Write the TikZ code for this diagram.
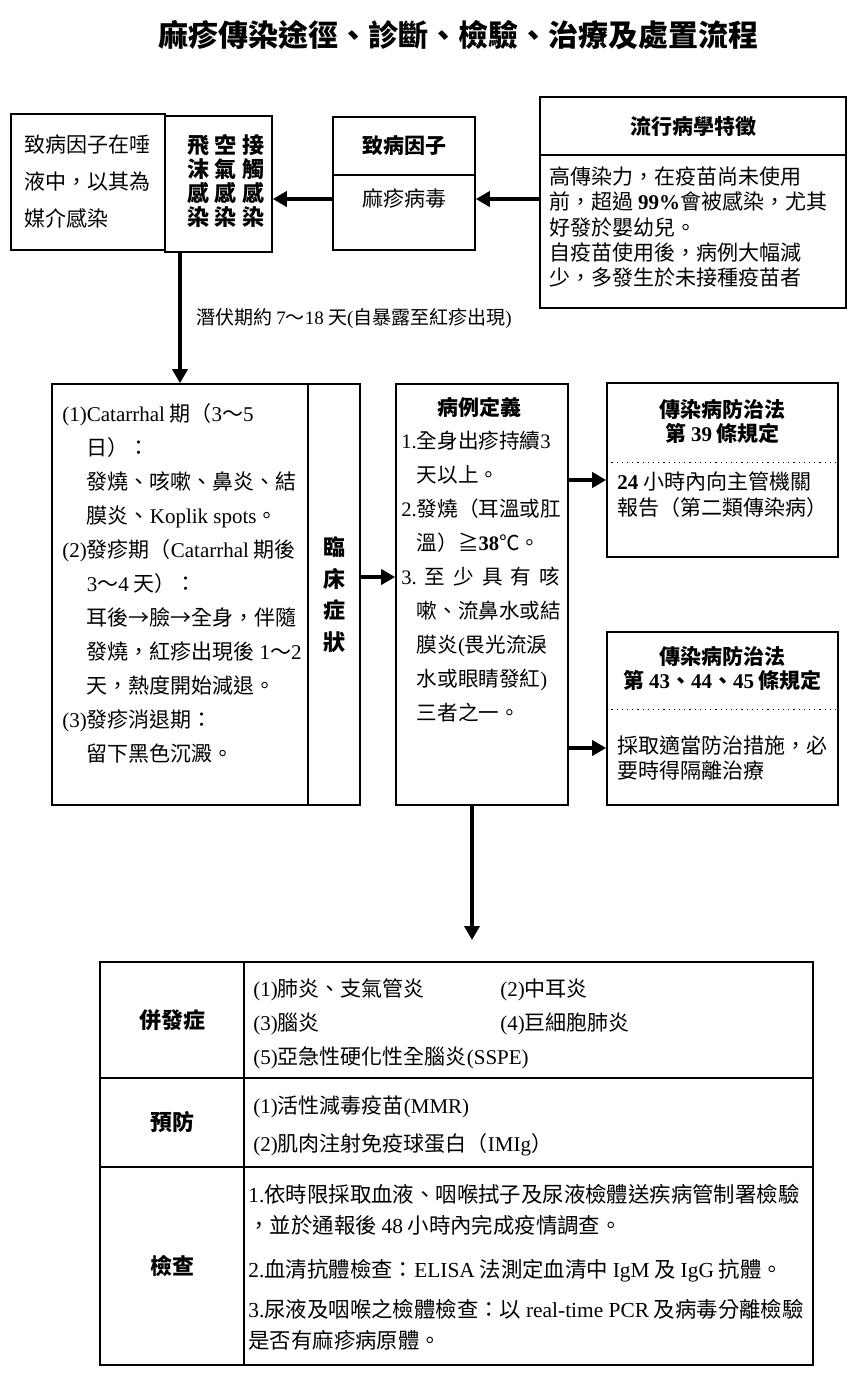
\documentclass[tikz,border=0pt]{standalone}
\usepackage{fontspec}
\setmainfont{Noto Sans CJK TC}
\newfontfamily\tnr{Liberation Serif}
\usetikzlibrary{arrows.meta, positioning, calc}
\newcommand{\en}[1]{{\tnr #1}}
\newcommand{\enb}[1]{{\tnr\bfseries #1}}
\newcommand{\fsz}[2]{\fontsize{#1}{#2}\selectfont}
\newcommand{\indA}{\phantom{\en{(1)}}}
\newcommand{\indB}{\phantom{\en{1.}}}
\newcommand{\cgap}{\hspace{2.6pt}}
\tikzset{
  arrowK/.style={-{Triangle[length=7pt, width=7.5pt]}, line width=2pt},
  boxK/.style={rectangle, draw, line width=0.8pt, inner sep=0pt},
  cellK/.style={rectangle, draw, line width=1.1pt, inner sep=0pt, minimum width=72pt},
  lblK/.style={font=\bfseries\fsz{11}{13}},
  hdB/.style={font=\bfseries\fsz{10.5}{12}, align=center, inner sep=0pt},
  txtL/.style={inner sep=0pt, align=left, anchor=north west, font=\fsz{10.5}{17}},
}
\begin{document}
\begin{tikzpicture}[x=0.5pt, y=-0.5pt]
\useasboundingbox (0,0) rectangle (862,1382);
% title
\node[font=\bfseries\fsz{15}{18}] (title) at (458,35) {麻疹傳染途徑、診斷、檢驗、治療及處置流程};

% transmission row
\node[boxK, minimum width=77pt, minimum height=68pt, align=left, font=\fsz{10.5}{18.5}] (saliva) at (88,182)
  {致病因子在唾\\液中，以其為\\媒介感染};
\node[boxK, minimum width=53.5pt, minimum height=68pt] (route) at (218.5,184) {};
\node[font=\bfseries\fsz{11}{12}, align=center, inner sep=0pt] (routeTxt) at (226,181)
  {飛\cgap 空\cgap 接\\沫\cgap 氣\cgap 觸\\感\cgap 感\cgap 感\\染\cgap 染\cgap 染};
\node[boxK, minimum width=71pt, minimum height=29pt, hdB] (agentHd) at (404,146) {致病因子};
\node[boxK, minimum width=71pt, minimum height=37.5pt] (agentBd) at (404,212.5) {};
\node[font=\fsz{10.5}{12}, inner sep=0pt] (agentTxt) at (404,199) {麻疹病毒};
\node[boxK, minimum width=153pt, minimum height=29pt, hdB] (epiHd) at (693,126) {流行病學特徵};
\node[boxK, minimum width=153pt, minimum height=76.5pt] (epiBd) at (693,231.5) {};
\node[txtL, font=\fsz{10.5}{12.6}] (epiTxt) at (549,166.5)
  {高傳染力，在疫苗尚未使用\\前，超過 \enb{99\%}會被感染，尤其\\好發於嬰幼兒。\\自疫苗使用後，病例大幅減\\少，多發生於未接種疫苗者};
\draw[arrowK] (epiBd.west |- agentTxt) -- (agentBd.east |- agentTxt);
\draw[arrowK] (agentBd.west |- agentTxt) -- (route.east |- agentTxt);

% symptoms
\node[boxK, minimum width=128pt, minimum height=210.5pt] (sympt) at (180,594.5) {};
\node[boxK, minimum width=26pt, minimum height=210.5pt, align=center, font=\bfseries\fsz{11}{15.75}] (symLbl) at (334,594.5)
  {臨\\床\\症\\狀};
\node[txtL] (symTxt) at (62,403.5) {
  \en{(1)Catarrhal} 期（\en{3}～\en{5}\\
  \indA 日）：\\
  \indA 發燒、咳嗽、鼻炎、結\\
  \indA 膜炎、\en{Koplik spots}。\\
  \en{(2)}發疹期（\en{Catarrhal} 期後\\
  \indA\en{3}～\en{4} 天）：\\
  \indA 耳後→臉→全身，伴隨\\
  \indA 發燒，紅疹出現後 \en{1}～\en{2}\\
  \indA 天，熱度開始減退。\\
  \en{(3)}發疹消退期：\\
  \indA 留下黑色沉澱。};
\draw[arrowK] (route.south -| sympt.north) -- node[right=7pt, font=\fsz{9.5}{12}, inner sep=0pt] (incub)
  {潛伏期約 \en{7}～\en{18} 天\en{(}自暴露至紅疹出現\en{)}} (sympt.north);

% case definition
\node[boxK, minimum width=86pt, minimum height=210.5pt] (caseDef) at (482,594.5) {};
\node[hdB] (caseTtl) at (479,407) {病例定義};
\node[txtL, font=\fsz{10.3}{17}] (caseTxt) at (401,430.5) {
  \en{1.}全身出疹持續\en{3}\\
  \indB 天以上。\\
  \en{2.}發燒（耳溫或肛\\
  \indB 溫）≧\enb{38}℃。\\
  \en{3.}\hspace{4pt}至\hspace{4pt}少\hspace{4pt}具\hspace{4pt}有\hspace{4pt}咳\\
  \indB 嗽、流鼻水或結\\
  \indB 膜炎\en{(}畏光流淚\\
  \indB 水或眼睛發紅\en{)}\\
  \indB 三者之一。};
\draw[arrowK] ([yshift=8.75pt]symLbl.east) -- ([yshift=8.75pt]caseDef.west);

% law boxes
\node[boxK, minimum width=115.5pt, minimum height=87pt] (law1) at (722.5,470) {};
\draw[dotted, line width=0.6pt] ([yshift=-40pt]law1.north west) -- ([yshift=-40pt]law1.north east);
\node[hdB] (law1Ttl) at (722.5,421) {傳染病防治法\\第 \enb{39} 條規定};
\node[txtL, font=\fsz{10.5}{13}] (law1Txt) at (617,471.5) {\enb{24} 小時內向主管機關\\報告（第二類傳染病）};
\node[boxK, minimum width=115.5pt, minimum height=86.5pt] (law2) at (722.5,718.5) {};
\draw[dotted, line width=0.6pt] ([yshift=-39pt]law2.north west) -- ([yshift=-39pt]law2.north east);
\node[hdB] (law2Ttl) at (722.5,668.5) {傳染病防治法\\第 \enb{43}、\enb{44}、\enb{45} 條規定};
\node[txtL, font=\fsz{10.5}{12.5}] (law2Txt) at (617,735.5) {採取適當防治措施，必\\要時得隔離治療};
\coordinate (r39) at ([yshift=-5pt]law1.west);
\coordinate (r43) at ([yshift=-14.75pt]law2.west);
\draw[arrowK] (caseDef.east |- r39) -- (r39);
\draw[arrowK] (caseDef.east |- r43) -- (r43);
\coordinate (tblIn) at (472,940);
\draw[arrowK] (caseDef.south -| tblIn) -- (tblIn);

% table
\node[cellK, lblK, minimum height=58pt] (compLbl) at (172,1020) {併發症};
\node[cellK, minimum width=284.5pt, minimum height=58pt] (compCell) at (528.5,1020) {};
\node[txtL, anchor=west] (compList) at (253,1023.5)
  {\makebox[123.5pt][l]{\en{(1)}肺炎、支氣管炎}\en{(2)}中耳炎\\
   \makebox[123.5pt][l]{\en{(3)}腦炎}\en{(4)}巨細胞肺炎\\
   \en{(5)}亞急性硬化性全腦炎\en{(SSPE)}};
\node[cellK, lblK, minimum height=44.5pt] (prevLbl) at (172,1122.5) {預防};
\node[cellK, minimum width=284.5pt, minimum height=44.5pt] (prevCell) at (528.5,1122.5) {};
\node[txtL, anchor=west, font=\fsz{10.5}{19}] (prevList) at (253,1126)
  {\en{(1)}活性減毒疫苗\en{(MMR)}\\ \en{(2)}肌肉注射免疫球蛋白（\en{IMIg}）};
\node[cellK, lblK, minimum height=99pt] (examLbl) at (172,1266) {檢查};
\node[cellK, minimum width=284.5pt, minimum height=99pt] (examCell) at (528.5,1266) {};
\node[txtL, anchor=west, font=\fsz{10.7}{15.5}] (examList) at (248,1267.5)
  {\en{1.}依時限採取血液、咽喉拭子及尿液檢體送疾病管制署檢驗\\
   ，並於通報後 \en{48} 小時內完成疫情調查。\\[6.5pt]
   \en{2.}血清抗體檢查：\en{ELISA} 法測定血清中 \en{IgM} 及 \en{IgG} 抗體。\\[4.5pt]
   \en{3.}尿液及咽喉之檢體檢查：以 \en{real-time PCR} 及病毒分離檢驗\\
   是否有麻疹病原體。};
\end{tikzpicture}
\end{document}
